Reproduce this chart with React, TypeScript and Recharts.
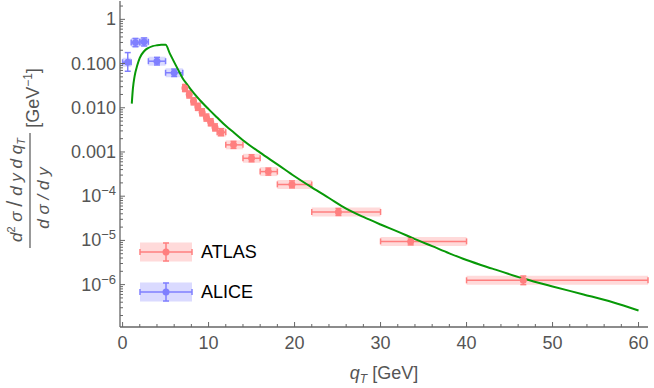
import { ComposedChart, Line, Scatter, ErrorBar, XAxis, YAxis } from 'recharts';

// ATLAS prompt J/psi, normalised qT spectrum
const atlasQt = [7.25, 7.75, 8.25, 8.75, 9.25, 9.75, 10.25, 10.75, 11.45, 12.9, 15.0, 16.95, 19.7, 25.1, 33.5, 46.6];
const atlasBinLo = [7, 7.5, 8, 8.5, 9, 9.5, 10, 10.5, 11, 12, 14, 16, 18, 22, 30, 40];
const atlasBinHi = [7.5, 8, 8.5, 9, 9.5, 10, 10.5, 11, 12, 14, 16, 18, 22, 30, 40, 70];
const atlasVal = [0.028, 0.02, 0.014, 0.0105, 0.0079, 0.006, 0.0047, 0.0036, 0.0028, 0.00145, 0.00072, 0.00036, 0.000185, 0.000044, 0.0000095, 0.00000125];
const atlasRelErr = [0.2, 0.2, 0.2, 0.2, 0.2, 0.2, 0.2, 0.2, 0.2, 0.2, 0.2, 0.2, 0.2, 0.2, 0.2, 0.25];

// ALICE
const aliceQt = [0.6, 1.5, 2.5, 4.0, 6.0];
const aliceBinLo = [0, 1, 2, 3, 5];
const aliceBinHi = [1, 2, 3, 5, 7];
const aliceVal = [0.107, 0.3, 0.31, 0.113, 0.062];
const aliceErrLo = [0.04, 0.06, 0.06, 0.02, 0.011];
const aliceErrHi = [0.07, 0.07, 0.07, 0.025, 0.013];

// theory curve
const curveQt = [1.07, 1.2, 1.4, 1.7, 2.0, 2.5, 3.0, 3.5, 4.0, 4.5, 5.0, 5.5, 6.0, 6.5, 7.0, 7.5, 8.0, 9.0,
  10, 11, 12, 13, 14, 16, 18, 20, 22, 24, 26, 28, 30, 32, 34, 36, 38, 40, 43, 46.6, 50, 53.6, 57, 60];
const curveVal = [0.0124, 0.027, 0.052, 0.09, 0.135, 0.19, 0.225, 0.248, 0.259, 0.265, 0.265, 0.168, 0.108, 0.07, 0.046, 0.034, 0.025, 0.0148,
  0.0093, 0.006, 0.0039, 0.0027, 0.00185, 0.000965, 0.000525, 0.000282, 0.000158, 0.000091, 0.0000525, 0.0000339, 0.0000229, 0.0000158,
  0.0000107, 0.0000074, 0.0000051, 0.0000036, 0.0000023, 0.00000138, 0.00000091, 0.0000006, 0.0000004, 0.00000026];

const xMajorTicks = [0, 10, 20, 30, 40, 50, 60];
const yMajorTicks = [1, 0.1, 0.01, 0.001, 1e-4, 1e-5, 1e-6];
const yTickLabels = ['1', '0.100', '0.010', '0.001', '10^-4', '10^-5', '10^-6'];

const X_DOMAIN = [-0.3, 61.1];
const Y_DOMAIN = [1.1e-7, 2.6];

const xTicks: number[] = [];
for (let i = 0; i <= 30; i++) xTicks.push(i * 2);
const yTicks: number[] = [];
for (let k = -7; k <= 0; k++) {
  for (let j = 1; j <= 9; j++) {
    const t = j * Math.pow(10, k);
    if (t >= Y_DOMAIN[0] && t <= Y_DOMAIN[1]) yTicks.push(t);
  }
}

// horizontal bars are cut at the plot frame
const atlas = atlasQt.map((q, i) => {
  const v = atlasVal[i];
  const r = atlasRelErr[i];
  return {
    q, v,
    ex: [q - atlasBinLo[i], Math.min(atlasBinHi[i], X_DOMAIN[1]) - q],
    ey: [v - v / (1 + r), v * r],
  };
});
const alice = aliceQt.map((q, i) => ({
  q, v: aliceVal[i], ex: [q - aliceBinLo[i], aliceBinHi[i] - q], ey: [aliceErrLo[i], aliceErrHi[i]],
}));
const curve = curveQt.map((q, i) => ({ q, v: curveVal[i] }));

const FONT = '"Liberation Sans", Arial, Helvetica, sans-serif';
const FRAME = '#666';
const TICK_TEXT = '#555';
const RED = '#ff7f7f';
const RED_BAND = '#ffdada';
const BLUE = '#7f7fff';
const BLUE_BAND = '#dadaff';
const GREEN = '#079907';
const FS = 18;

const isMajorY = (v: number) => Math.abs(Math.log10(v) - Math.round(Math.log10(v))) < 1e-9;

function BottomTick(props: any) {
  const { x, y, payload } = props;
  const v = payload.value;
  const major = xMajorTicks.includes(v);
  return (
    <g>
      <line x1={x} x2={x} y1={y} y2={y - (major ? 5 : 3)} stroke={FRAME} />
      {major && (
        <text x={x} y={y + 22} textAnchor="middle" fill={TICK_TEXT} fontSize={FS} fontFamily={FONT}>{v}</text>
      )}
    </g>
  );
}

function TopTick(props: any) {
  const { x, y, payload } = props;
  const major = xMajorTicks.includes(payload.value);
  return <line x1={x} x2={x} y1={y} y2={y + (major ? 5 : 3)} stroke={FRAME} />;
}

function LeftTick(props: any) {
  const { x, y, payload } = props;
  const v = payload.value;
  const major = isMajorY(v);
  const idx = yMajorTicks.findIndex(t => Math.abs(Math.log10(t) - Math.log10(v)) < 1e-9);
  const label = idx >= 0 ? yTickLabels[idx] : '';
  let content: any = label;
  if (label.startsWith('10^')) {
    content = [
      <tspan key="b">10</tspan>,
      <tspan key="e" dy={-7} fontSize={13}>{label.slice(3).replace('-', '\u2212')}</tspan>,
    ];
  }
  return (
    <g>
      <line x1={x} x2={x + (major ? 5 : 3)} y1={y} y2={y} stroke={FRAME} />
      {label && (
        <text x={x - 4} y={y + 6} textAnchor="end" fill={TICK_TEXT} fontSize={FS} fontFamily={FONT}>{content}</text>
      )}
    </g>
  );
}

function RightTick(props: any) {
  const { x, y, payload } = props;
  const major = isMajorY(payload.value);
  return <line x1={x} x2={x - (major ? 5 : 3)} y1={y} y2={y} stroke={FRAME} />;
}

function Dot(color: string) {
  return (props: any) => <circle cx={props.cx} cy={props.cy} r={3.5} fill={color} />;
}

function LegendItem({ y, color, band, label }: { y: number; color: string; band: string; label: string }) {
  const x0 = 140, x1 = 192, xm = 166;
  return (
    <g>
      <rect x={x0} y={y - 9.5} width={x1 - x0} height={19} fill={band} />
      <line x1={x0} x2={x1} y1={y} y2={y} stroke={color} strokeWidth={1.5} />
      <line x1={x0} x2={x0} y1={y - 3} y2={y + 3} stroke={color} strokeWidth={1.5} />
      <line x1={x1} x2={x1} y1={y - 3} y2={y + 3} stroke={color} strokeWidth={1.5} />
      <line x1={xm} x2={xm} y1={y - 9} y2={y + 9} stroke={color} strokeWidth={1.5} />
      <line x1={xm - 3} x2={xm + 3} y1={y - 9} y2={y - 9} stroke={color} strokeWidth={1.5} />
      <line x1={xm - 3} x2={xm + 3} y1={y + 9} y2={y + 9} stroke={color} strokeWidth={1.5} />
      <circle cx={xm} cy={y} r={3.5} fill={color} />
      <text x={201} y={y + 6} fontSize={FS} fontFamily={FONT} fill="#000">{label}</text>
    </g>
  );
}

export default function App() {
  return (
    <div style={{ position: 'absolute', left: 0, top: 0, width: 654, height: 388, background: '#fff' }}>
      <ComposedChart width={654} height={388} margin={{ top: 1, right: 6, bottom: 0, left: 0 }}>
        <XAxis xAxisId="b" dataKey="q" type="number" domain={X_DOMAIN} allowDataOverflow ticks={xTicks} interval={0}
          height={61} tickSize={0} tickMargin={0} tick={<BottomTick />} stroke={FRAME} strokeWidth={1.3} />
        <XAxis xAxisId="t" orientation="top" dataKey="q" type="number" domain={X_DOMAIN} allowDataOverflow ticks={xTicks}
          interval={0} height={0} tickSize={0} tickMargin={0} tick={<TopTick />} stroke={FRAME} strokeWidth={1.3} />
        <YAxis yAxisId="l" dataKey="v" type="number" scale="log" domain={Y_DOMAIN} allowDataOverflow ticks={yTicks}
          interval={0} width={120} tickSize={0} tickMargin={0} tick={<LeftTick />} stroke={FRAME} strokeWidth={1.3} />
        <YAxis yAxisId="r" orientation="right" dataKey="v" type="number" scale="log" domain={Y_DOMAIN} allowDataOverflow
          ticks={yTicks} interval={0} width={0} tickSize={0} tickMargin={0} tick={<RightTick />} stroke={FRAME} strokeWidth={1.3} />

        <Scatter data={alice} dataKey="v" xAxisId="b" yAxisId="l" shape={Dot(BLUE)} isAnimationActive={false}>
          <ErrorBar dataKey="ex" direction="x" width={0} stroke={BLUE_BAND} strokeWidth={9} isAnimationActive={false} />
          <ErrorBar dataKey="ex" direction="x" width={3} stroke={BLUE} strokeWidth={1.5} isAnimationActive={false} />
          <ErrorBar dataKey="ey" direction="y" width={3} stroke={BLUE} strokeWidth={1.5} isAnimationActive={false} />
        </Scatter>
        <Scatter data={atlas} dataKey="v" xAxisId="b" yAxisId="l" shape={Dot(RED)} isAnimationActive={false}>
          <ErrorBar dataKey="ex" direction="x" width={0} stroke={RED_BAND} strokeWidth={9} isAnimationActive={false} />
          <ErrorBar dataKey="ex" direction="x" width={3} stroke={RED} strokeWidth={1.5} isAnimationActive={false} />
          <ErrorBar dataKey="ey" direction="y" width={3} stroke={RED} strokeWidth={1.5} isAnimationActive={false} />
        </Scatter>
        <Line data={curve} dataKey="v" xAxisId="b" yAxisId="l" type="monotone" stroke={GREEN} strokeWidth={2}
          dot={false} activeDot={false} isAnimationActive={false} />
      </ComposedChart>

      <svg width={654} height={388} style={{ position: 'absolute', left: 0, top: 0, pointerEvents: 'none' }}>
        <g transform="rotate(-90)" fontFamily={FONT} fill={TICK_TEXT}>
          <text x={-190} y={22} textAnchor="middle" fontSize={17}>
            <tspan fontStyle="italic">d</tspan>
            <tspan dy={-7} fontSize={11}>2</tspan>
            <tspan dy={7} fontStyle="italic"> σ </tspan>
            <tspan fontSize={22}>/</tspan>
            <tspan fontStyle="italic"> d y d q</tspan>
            <tspan dy={3} fontSize={11} fontStyle="italic">T</tspan>
          </text>
          <line x1={-248} x2={-133} y1={30} y2={30} stroke={TICK_TEXT} strokeWidth={1.2} />
          <text x={-198} y={49} textAnchor="middle" fontSize={17} fontStyle="italic">d σ / d y</text>
          <text x={-98} y={39} textAnchor="middle" fontSize={FS}>
            [GeV<tspan dy={-7} fontSize={12}>{'\u22121'}</tspan><tspan dy={7}>]</tspan>
          </text>
        </g>
        <text x={384} y={379} textAnchor="middle" fontSize={FS} fontFamily={FONT} fill={TICK_TEXT}>
          <tspan fontStyle="italic">q</tspan>
          <tspan dy={4} fontSize={12} fontStyle="italic">T</tspan>
          <tspan dy={-4}> [GeV]</tspan>
        </text>
        <LegendItem y={252} color={RED} band={RED_BAND} label="ATLAS" />
        <LegendItem y={292} color={BLUE} band={BLUE_BAND} label="ALICE" />
      </svg>
    </div>
  );
}
